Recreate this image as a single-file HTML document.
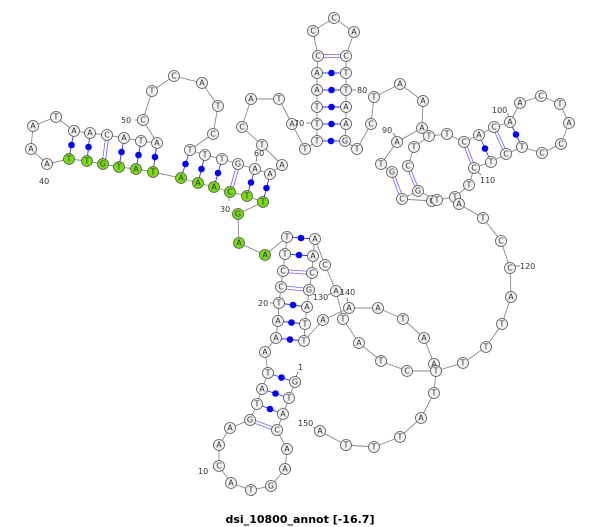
<!DOCTYPE html>
<html><head><meta charset="utf-8"><style>
html,body{margin:0;padding:0;background:#fff;}
svg{display:block;}
.bb{fill:none;stroke:#888;stroke-width:0.9;}
.n circle{fill:#f2f2f2;stroke:#555;stroke-width:0.8;}
.n.g circle{fill:#77dd11;}
.n text{font-family:"DejaVu Sans","Liberation Sans",sans-serif;font-size:8px;fill:#333;text-anchor:middle;dominant-baseline:central;}
.lab{font-family:"DejaVu Sans","Liberation Sans",sans-serif;font-size:8px;fill:#333;}
.dot{fill:#0000ff;}
.pl{stroke:#3333ee;stroke-width:0.9;}
.dl{stroke:#6666ff;stroke-width:0.8;}
.tk{stroke:#555;stroke-width:0.7;}
</style></head><body>
<svg width="600" height="527" viewBox="0 0 600 527" xmlns="http://www.w3.org/2000/svg">
<polyline class="bb" points="295,382 289,398 283,414 277,430 287,449 285,469 271,486 251,490 231,483 219,466 219,445 230,428 250,420 257,404 262,389 268,373 265,352 276,338 278,321 279,303 281,287 283,271 285,254 287,237 265,255 239,243 238,214 263,202 247,196 230,192 214,187 198,183 181,178 153,172 136,169 119,167 103,164 87,161 69,159 47,164 31,149 33,126 56,117 74,131 90,133 107,135 124,138 141,141 157,143 143,120 152,91 174,76 202,83 218,106 213,134 190,150 205,155 222,159 238,164 255,169 270,174 282,165 262,145 242,127 251,99 279,99 292,124 305,149 317,141 317,124 317,107 317,90 317,73 318,56 313,31 334,18 354,32 346,56 346,73 346,90 346,107 346,124 345,141 357,149 371,124 374,97 400,84 423,101 422,128 397,142 381,164 392,172"/>
<polyline class="bb" points="402,199 432,201 437,200 455,197 469,185 474,168 491,162 506,154 522,147 542,153 561,144 569,123 560,104 541,96 520,103 510,122 494,127 479,135 464,142 447,134 429,136 414,147 408,166"/>
<polyline class="bb" points="402,199 418,191 437,200"/>
<polyline class="bb" points="455,197 459,204 483,218 501,241 510,268 511,297 502,324 486,347 463,363 436,371 434,393 421,418 400,437 374,447 346,445 320,431"/>
<polyline class="bb" points="315,239 313,256 312,273 309,290 307,307 305,324 304,341 323,320 349,308 378,308 403,319 424,338 434,364 436,371 407,371 381,361 359,343 343,319 336,291 325,265 315,239"/>

<!-- pairs: dots -->
<g>
<line class="pl" x1="69" y1="159" x2="74" y2="131"/><circle class="dot" cx="71.5" cy="145" r="3.3"/>
<line class="pl" x1="87" y1="161" x2="90" y2="133"/><circle class="dot" cx="88.5" cy="147" r="3.3"/>
<line class="pl" x1="119" y1="167" x2="124" y2="138"/><circle class="dot" cx="121.5" cy="152" r="3.3"/>
<line class="pl" x1="136" y1="169" x2="141" y2="141"/><circle class="dot" cx="138.5" cy="155" r="3.3"/>
<line class="pl" x1="153" y1="172" x2="157" y2="143"/><circle class="dot" cx="155" cy="157" r="3.3"/>
<line class="pl" x1="181" y1="178" x2="190" y2="150"/><circle class="dot" cx="185.5" cy="164" r="3.3"/>
<line class="pl" x1="198" y1="183" x2="205" y2="155"/><circle class="dot" cx="201.5" cy="169" r="3.3"/>
<line class="pl" x1="214" y1="187" x2="222" y2="159"/><circle class="dot" cx="218" cy="173" r="3.3"/>
<line class="pl" x1="247" y1="196" x2="255" y2="169"/><circle class="dot" cx="251" cy="182.5" r="3.3"/>
<line class="pl" x1="263" y1="202" x2="270" y2="174"/><circle class="dot" cx="266.5" cy="188" r="3.3"/>
<line class="pl" x1="317" y1="141" x2="345" y2="141"/><circle class="dot" cx="331" cy="141" r="3.3"/>
<line class="pl" x1="317" y1="124" x2="346" y2="124"/><circle class="dot" cx="331.5" cy="124" r="3.3"/>
<line class="pl" x1="317" y1="107" x2="346" y2="107"/><circle class="dot" cx="331.5" cy="107" r="3.3"/>
<line class="pl" x1="317" y1="90" x2="346" y2="90"/><circle class="dot" cx="331.5" cy="90" r="3.3"/>
<line class="pl" x1="317" y1="73" x2="346" y2="73"/><circle class="dot" cx="331.5" cy="73" r="3.3"/>
<line class="pl" x1="479" y1="135" x2="491" y2="162"/><circle class="dot" cx="485" cy="148.5" r="3.3"/>
<line class="pl" x1="510" y1="122" x2="522" y2="147"/><circle class="dot" cx="516" cy="134.5" r="3.3"/>
<line class="pl" x1="287" y1="237" x2="315" y2="239"/><circle class="dot" cx="301" cy="238" r="3.3"/>
<line class="pl" x1="285" y1="254" x2="313" y2="256"/><circle class="dot" cx="299" cy="255" r="3.3"/>
<line class="pl" x1="279" y1="303" x2="307" y2="307"/><circle class="dot" cx="293" cy="305" r="3.3"/>
<line class="pl" x1="278" y1="321" x2="305" y2="324"/><circle class="dot" cx="291.5" cy="322.5" r="3.3"/>
<line class="pl" x1="276" y1="338" x2="304" y2="341"/><circle class="dot" cx="290" cy="339.5" r="3.3"/>
<line class="pl" x1="268" y1="373" x2="295" y2="382"/><circle class="dot" cx="281.5" cy="377.5" r="3.3"/>
<line class="pl" x1="262" y1="389" x2="289" y2="398"/><circle class="dot" cx="275.5" cy="393.5" r="3.3"/>
<line class="pl" x1="257" y1="404" x2="283" y2="414"/><circle class="dot" cx="270" cy="409" r="3.3"/>
</g>
<!-- pairs: double lines -->
<g>
<line class="dl" x1="102" y1="164" x2="106" y2="135"/><line class="dl" x1="105" y1="164" x2="109" y2="135"/>
<line class="dl" x1="229" y1="192" x2="237" y2="164"/><line class="dl" x1="232" y1="192" x2="240" y2="164"/>
<line class="dl" x1="318" y1="54.5" x2="346" y2="54.5"/><line class="dl" x1="318" y1="57.5" x2="346" y2="57.5"/>
<line class="dl" x1="390.5" y1="172" x2="400.5" y2="199"/><line class="dl" x1="393.5" y1="172" x2="403.5" y2="199"/>
<line class="dl" x1="406.5" y1="166" x2="416.5" y2="191"/><line class="dl" x1="409.5" y1="166" x2="419.5" y2="191"/>
<line class="dl" x1="462.5" y1="142" x2="472.5" y2="168"/><line class="dl" x1="465.5" y1="142" x2="475.5" y2="168"/>
<line class="dl" x1="492.5" y1="127" x2="504.5" y2="154"/><line class="dl" x1="495.5" y1="127" x2="507.5" y2="154"/>
<line class="dl" x1="283" y1="269.5" x2="312" y2="271.5"/><line class="dl" x1="283" y1="272.5" x2="312" y2="274.5"/>
<line class="dl" x1="281" y1="285.5" x2="309" y2="288.5"/><line class="dl" x1="281" y1="288.5" x2="309" y2="291.5"/>
<line class="dl" x1="250" y1="418.5" x2="277" y2="428.5"/><line class="dl" x1="250" y1="421.5" x2="277" y2="431.5"/>
</g>

<!-- ticks -->
<g>
<line class="tk" x1="298" y1="372" x2="296" y2="377"/>
<line class="tk" x1="213" y1="468" x2="218" y2="466"/>
<line class="tk" x1="270" y1="303" x2="274" y2="303"/>
<line class="tk" x1="229" y1="197" x2="229" y2="201"/>
<line class="tk" x1="135" y1="120" x2="139" y2="120"/>
<line class="tk" x1="257" y1="156" x2="256" y2="162"/>
<line class="tk" x1="306" y1="123" x2="311" y2="123"/>
<line class="tk" x1="352" y1="90" x2="356" y2="90"/>
<line class="tk" x1="393" y1="133" x2="396" y2="137"/>
<line class="tk" x1="507" y1="113" x2="509" y2="117"/>
<line class="tk" x1="478" y1="172" x2="481" y2="175"/>
<line class="tk" x1="515" y1="266" x2="520" y2="266"/>
<line class="tk" x1="328" y1="295" x2="332" y2="293"/>
<line class="tk" x1="347" y1="298" x2="348" y2="302"/>
<line class="tk" x1="313" y1="427" x2="316" y2="429"/>
</g>

<!-- nodes -->
<g class="n g"><circle cx="69" cy="159" r="5.5"/><text x="69" y="159">T</text></g>
<g class="n g"><circle cx="87" cy="161" r="5.5"/><text x="87" y="161">T</text></g>
<g class="n g"><circle cx="103" cy="164" r="5.5"/><text x="103" y="164">G</text></g>
<g class="n g"><circle cx="119" cy="167" r="5.5"/><text x="119" y="167">T</text></g>
<g class="n g"><circle cx="136" cy="169" r="5.5"/><text x="136" y="169">A</text></g>
<g class="n g"><circle cx="153" cy="172" r="5.5"/><text x="153" y="172">T</text></g>
<g class="n g"><circle cx="181" cy="178" r="5.5"/><text x="181" y="178">A</text></g>
<g class="n g"><circle cx="198" cy="183" r="5.5"/><text x="198" y="183">A</text></g>
<g class="n g"><circle cx="214" cy="187" r="5.5"/><text x="214" y="187">A</text></g>
<g class="n g"><circle cx="230" cy="192" r="5.5"/><text x="230" y="192">C</text></g>
<g class="n g"><circle cx="247" cy="196" r="5.5"/><text x="247" y="196">T</text></g>
<g class="n g"><circle cx="263" cy="202" r="5.5"/><text x="263" y="202">T</text></g>
<g class="n g"><circle cx="238" cy="214" r="5.5"/><text x="238" y="214">G</text></g>
<g class="n g"><circle cx="239" cy="243" r="5.5"/><text x="239" y="243">A</text></g>
<g class="n g"><circle cx="265" cy="255" r="5.5"/><text x="265" y="255">A</text></g>

<g class="n"><circle cx="47" cy="164" r="5.5"/><text x="47" y="164">A</text></g>
<g class="n"><circle cx="31" cy="149" r="5.5"/><text x="31" y="149">A</text></g>
<g class="n"><circle cx="33" cy="126" r="5.5"/><text x="33" y="126">A</text></g>
<g class="n"><circle cx="56" cy="117" r="5.5"/><text x="56" y="117">T</text></g>
<g class="n"><circle cx="74" cy="131" r="5.5"/><text x="74" y="131">A</text></g>
<g class="n"><circle cx="90" cy="133" r="5.5"/><text x="90" y="133">A</text></g>
<g class="n"><circle cx="107" cy="135" r="5.5"/><text x="107" y="135">C</text></g>
<g class="n"><circle cx="124" cy="138" r="5.5"/><text x="124" y="138">A</text></g>
<g class="n"><circle cx="141" cy="141" r="5.5"/><text x="141" y="141">T</text></g>
<g class="n"><circle cx="157" cy="143" r="5.5"/><text x="157" y="143">A</text></g>
<g class="n"><circle cx="143" cy="120" r="5.5"/><text x="143" y="120">C</text></g>
<g class="n"><circle cx="152" cy="91" r="5.5"/><text x="152" y="91">T</text></g>
<g class="n"><circle cx="174" cy="76" r="5.5"/><text x="174" y="76">C</text></g>
<g class="n"><circle cx="202" cy="83" r="5.5"/><text x="202" y="83">A</text></g>
<g class="n"><circle cx="218" cy="106" r="5.5"/><text x="218" y="106">T</text></g>
<g class="n"><circle cx="213" cy="134" r="5.5"/><text x="213" y="134">C</text></g>
<g class="n"><circle cx="190" cy="150" r="5.5"/><text x="190" y="150">T</text></g>
<g class="n"><circle cx="205" cy="155" r="5.5"/><text x="205" y="155">T</text></g>
<g class="n"><circle cx="222" cy="159" r="5.5"/><text x="222" y="159">T</text></g>
<g class="n"><circle cx="238" cy="164" r="5.5"/><text x="238" y="164">G</text></g>
<g class="n"><circle cx="255" cy="169" r="5.5"/><text x="255" y="169">A</text></g>
<g class="n"><circle cx="270" cy="174" r="5.5"/><text x="270" y="174">A</text></g>
<g class="n"><circle cx="282" cy="165" r="5.5"/><text x="282" y="165">A</text></g>
<g class="n"><circle cx="262" cy="145" r="5.5"/><text x="262" y="145">T</text></g>
<g class="n"><circle cx="242" cy="127" r="5.5"/><text x="242" y="127">C</text></g>
<g class="n"><circle cx="251" cy="99" r="5.5"/><text x="251" y="99">A</text></g>
<g class="n"><circle cx="279" cy="99" r="5.5"/><text x="279" y="99">T</text></g>
<g class="n"><circle cx="292" cy="124" r="5.5"/><text x="292" y="124">A</text></g>
<g class="n"><circle cx="305" cy="149" r="5.5"/><text x="305" y="149">T</text></g>
<g class="n"><circle cx="317" cy="141" r="5.5"/><text x="317" y="141">T</text></g>
<g class="n"><circle cx="317" cy="124" r="5.5"/><text x="317" y="124">T</text></g>
<g class="n"><circle cx="317" cy="107" r="5.5"/><text x="317" y="107">T</text></g>
<g class="n"><circle cx="317" cy="90" r="5.5"/><text x="317" y="90">A</text></g>
<g class="n"><circle cx="317" cy="73" r="5.5"/><text x="317" y="73">A</text></g>
<g class="n"><circle cx="318" cy="56" r="5.5"/><text x="318" y="56">C</text></g>
<g class="n"><circle cx="313" cy="31" r="5.5"/><text x="313" y="31">C</text></g>
<g class="n"><circle cx="334" cy="18" r="5.5"/><text x="334" y="18">C</text></g>
<g class="n"><circle cx="354" cy="32" r="5.5"/><text x="354" y="32">A</text></g>
<g class="n"><circle cx="346" cy="56" r="5.5"/><text x="346" y="56">C</text></g>
<g class="n"><circle cx="346" cy="73" r="5.5"/><text x="346" y="73">T</text></g>
<g class="n"><circle cx="346" cy="90" r="5.5"/><text x="346" y="90">T</text></g>
<g class="n"><circle cx="346" cy="107" r="5.5"/><text x="346" y="107">A</text></g>
<g class="n"><circle cx="346" cy="124" r="5.5"/><text x="346" y="124">A</text></g>
<g class="n"><circle cx="345" cy="141" r="5.5"/><text x="345" y="141">G</text></g>
<g class="n"><circle cx="357" cy="149" r="5.5"/><text x="357" y="149">T</text></g>
<g class="n"><circle cx="371" cy="124" r="5.5"/><text x="371" y="124">C</text></g>
<g class="n"><circle cx="374" cy="97" r="5.5"/><text x="374" y="97">T</text></g>
<g class="n"><circle cx="400" cy="84" r="5.5"/><text x="400" y="84">A</text></g>
<g class="n"><circle cx="423" cy="101" r="5.5"/><text x="423" y="101">A</text></g>
<g class="n"><circle cx="422" cy="128" r="5.5"/><text x="422" y="128">A</text></g>
<g class="n"><circle cx="397" cy="142" r="5.5"/><text x="397" y="142">A</text></g>
<g class="n"><circle cx="381" cy="164" r="5.5"/><text x="381" y="164">T</text></g>
<g class="n"><circle cx="392" cy="172" r="5.5"/><text x="392" y="172">G</text></g>
<g class="n"><circle cx="402" cy="199" r="5.5"/><text x="402" y="199">C</text></g>
<g class="n"><circle cx="418" cy="191" r="5.5"/><text x="418" y="191">G</text></g>
<g class="n"><circle cx="408" cy="166" r="5.5"/><text x="408" y="166">C</text></g>
<g class="n"><circle cx="414" cy="147" r="5.5"/><text x="414" y="147">T</text></g>
<g class="n"><circle cx="429" cy="136" r="5.5"/><text x="429" y="136">T</text></g>
<g class="n"><circle cx="447" cy="134" r="5.5"/><text x="447" y="134">T</text></g>
<g class="n"><circle cx="464" cy="142" r="5.5"/><text x="464" y="142">C</text></g>
<g class="n"><circle cx="479" cy="135" r="5.5"/><text x="479" y="135">A</text></g>
<g class="n"><circle cx="494" cy="127" r="5.5"/><text x="494" y="127">C</text></g>
<g class="n"><circle cx="510" cy="122" r="5.5"/><text x="510" y="122">A</text></g>
<g class="n"><circle cx="520" cy="103" r="5.5"/><text x="520" y="103">A</text></g>
<g class="n"><circle cx="541" cy="96" r="5.5"/><text x="541" y="96">C</text></g>
<g class="n"><circle cx="560" cy="104" r="5.5"/><text x="560" y="104">T</text></g>
<g class="n"><circle cx="569" cy="123" r="5.5"/><text x="569" y="123">A</text></g>
<g class="n"><circle cx="561" cy="144" r="5.5"/><text x="561" y="144">C</text></g>
<g class="n"><circle cx="542" cy="153" r="5.5"/><text x="542" y="153">C</text></g>
<g class="n"><circle cx="522" cy="147" r="5.5"/><text x="522" y="147">T</text></g>
<g class="n"><circle cx="506" cy="154" r="5.5"/><text x="506" y="154">C</text></g>
<g class="n"><circle cx="491" cy="162" r="5.5"/><text x="491" y="162">T</text></g>
<g class="n"><circle cx="474" cy="168" r="5.5"/><text x="474" y="168">C</text></g>
<g class="n"><circle cx="469" cy="185" r="5.5"/><text x="469" y="185">T</text></g>
<g class="n"><circle cx="455" cy="197" r="5.5"/><text x="455" y="197">T</text></g>
<g class="n"><circle cx="432" cy="201" r="5.5"/><text x="432" y="201">C</text></g>
<g class="n"><circle cx="437" cy="200" r="5.5"/><text x="437" y="200">T</text></g>
<g class="n"><circle cx="459" cy="204" r="5.5"/><text x="459" y="204">A</text></g>
<g class="n"><circle cx="483" cy="218" r="5.5"/><text x="483" y="218">T</text></g>
<g class="n"><circle cx="501" cy="241" r="5.5"/><text x="501" y="241">C</text></g>
<g class="n"><circle cx="510" cy="268" r="5.5"/><text x="510" y="268">C</text></g>
<g class="n"><circle cx="511" cy="297" r="5.5"/><text x="511" y="297">A</text></g>
<g class="n"><circle cx="502" cy="324" r="5.5"/><text x="502" y="324">T</text></g>
<g class="n"><circle cx="486" cy="347" r="5.5"/><text x="486" y="347">T</text></g>
<g class="n"><circle cx="463" cy="363" r="5.5"/><text x="463" y="363">T</text></g>
<g class="n"><circle cx="434" cy="364" r="5.5"/><text x="434" y="364">A</text></g>
<g class="n"><circle cx="436" cy="371" r="5.5"/><text x="436" y="371">T</text></g>
<g class="n"><circle cx="434" cy="393" r="5.5"/><text x="434" y="393">T</text></g>
<g class="n"><circle cx="421" cy="418" r="5.5"/><text x="421" y="418">A</text></g>
<g class="n"><circle cx="400" cy="437" r="5.5"/><text x="400" y="437">T</text></g>
<g class="n"><circle cx="374" cy="447" r="5.5"/><text x="374" y="447">T</text></g>
<g class="n"><circle cx="346" cy="445" r="5.5"/><text x="346" y="445">T</text></g>
<g class="n"><circle cx="320" cy="431" r="5.5"/><text x="320" y="431">A</text></g>
<g class="n"><circle cx="424" cy="338" r="5.5"/><text x="424" y="338">A</text></g>
<g class="n"><circle cx="403" cy="319" r="5.5"/><text x="403" y="319">T</text></g>
<g class="n"><circle cx="378" cy="308" r="5.5"/><text x="378" y="308">A</text></g>
<g class="n"><circle cx="349" cy="308" r="5.5"/><text x="349" y="308">A</text></g>
<g class="n"><circle cx="323" cy="320" r="5.5"/><text x="323" y="320">A</text></g>
<g class="n"><circle cx="407" cy="371" r="5.5"/><text x="407" y="371">C</text></g>
<g class="n"><circle cx="381" cy="361" r="5.5"/><text x="381" y="361">T</text></g>
<g class="n"><circle cx="359" cy="343" r="5.5"/><text x="359" y="343">A</text></g>
<g class="n"><circle cx="343" cy="319" r="5.5"/><text x="343" y="319">T</text></g>
<g class="n"><circle cx="336" cy="291" r="5.5"/><text x="336" y="291">A</text></g>
<g class="n"><circle cx="325" cy="265" r="5.5"/><text x="325" y="265">C</text></g>
<g class="n"><circle cx="315" cy="239" r="5.5"/><text x="315" y="239">A</text></g>
<g class="n"><circle cx="313" cy="256" r="5.5"/><text x="313" y="256">A</text></g>
<g class="n"><circle cx="312" cy="273" r="5.5"/><text x="312" y="273">C</text></g>
<g class="n"><circle cx="309" cy="290" r="5.5"/><text x="309" y="290">G</text></g>
<g class="n"><circle cx="307" cy="307" r="5.5"/><text x="307" y="307">A</text></g>
<g class="n"><circle cx="305" cy="324" r="5.5"/><text x="305" y="324">T</text></g>
<g class="n"><circle cx="304" cy="341" r="5.5"/><text x="304" y="341">T</text></g>
<g class="n"><circle cx="287" cy="237" r="5.5"/><text x="287" y="237">T</text></g>
<g class="n"><circle cx="285" cy="254" r="5.5"/><text x="285" y="254">T</text></g>
<g class="n"><circle cx="283" cy="271" r="5.5"/><text x="283" y="271">C</text></g>
<g class="n"><circle cx="281" cy="287" r="5.5"/><text x="281" y="287">C</text></g>
<g class="n"><circle cx="279" cy="303" r="5.5"/><text x="279" y="303">T</text></g>
<g class="n"><circle cx="278" cy="321" r="5.5"/><text x="278" y="321">A</text></g>
<g class="n"><circle cx="276" cy="338" r="5.5"/><text x="276" y="338">A</text></g>
<g class="n"><circle cx="265" cy="352" r="5.5"/><text x="265" y="352">A</text></g>
<g class="n"><circle cx="268" cy="373" r="5.5"/><text x="268" y="373">T</text></g>
<g class="n"><circle cx="262" cy="389" r="5.5"/><text x="262" y="389">A</text></g>
<g class="n"><circle cx="257" cy="404" r="5.5"/><text x="257" y="404">T</text></g>
<g class="n"><circle cx="250" cy="420" r="5.5"/><text x="250" y="420">G</text></g>
<g class="n"><circle cx="230" cy="428" r="5.5"/><text x="230" y="428">A</text></g>
<g class="n"><circle cx="219" cy="445" r="5.5"/><text x="219" y="445">A</text></g>
<g class="n"><circle cx="219" cy="466" r="5.5"/><text x="219" y="466">C</text></g>
<g class="n"><circle cx="231" cy="483" r="5.5"/><text x="231" y="483">A</text></g>
<g class="n"><circle cx="251" cy="490" r="5.5"/><text x="251" y="490">T</text></g>
<g class="n"><circle cx="271" cy="486" r="5.5"/><text x="271" y="486">G</text></g>
<g class="n"><circle cx="285" cy="469" r="5.5"/><text x="285" y="469">A</text></g>
<g class="n"><circle cx="287" cy="449" r="5.5"/><text x="287" y="449">A</text></g>
<g class="n"><circle cx="277" cy="430" r="5.5"/><text x="277" y="430">C</text></g>
<g class="n"><circle cx="283" cy="414" r="5.5"/><text x="283" y="414">A</text></g>
<g class="n"><circle cx="289" cy="398" r="5.5"/><text x="289" y="398">T</text></g>
<g class="n"><circle cx="295" cy="382" r="5.5"/><text x="295" y="382">G</text></g>

<!-- labels -->
<text class="lab" x="298" y="370">1</text>
<text class="lab" x="198" y="474">10</text>
<text class="lab" x="258" y="306">20</text>
<text class="lab" x="220" y="212">30</text>
<text class="lab" x="39" y="184">40</text>
<text class="lab" x="121" y="123">50</text>
<text class="lab" x="254" y="156">60</text>
<text class="lab" x="294" y="126">70</text>
<text class="lab" x="357" y="93">80</text>
<text class="lab" x="382" y="133">90</text>
<text class="lab" x="492" y="113">100</text>
<text class="lab" x="480" y="183">110</text>
<text class="lab" x="520" y="269">120</text>
<text class="lab" x="313" y="300">130</text>
<text class="lab" x="340" y="295">140</text>
<text class="lab" x="298" y="426">150</text>

<text x="300" y="523" text-anchor="middle" style="font-family:'DejaVu Sans','Liberation Sans',sans-serif;font-size:11px;font-weight:bold;fill:#000;">dsi_10800_annot [-16.7]</text>
</svg>
</body></html>
